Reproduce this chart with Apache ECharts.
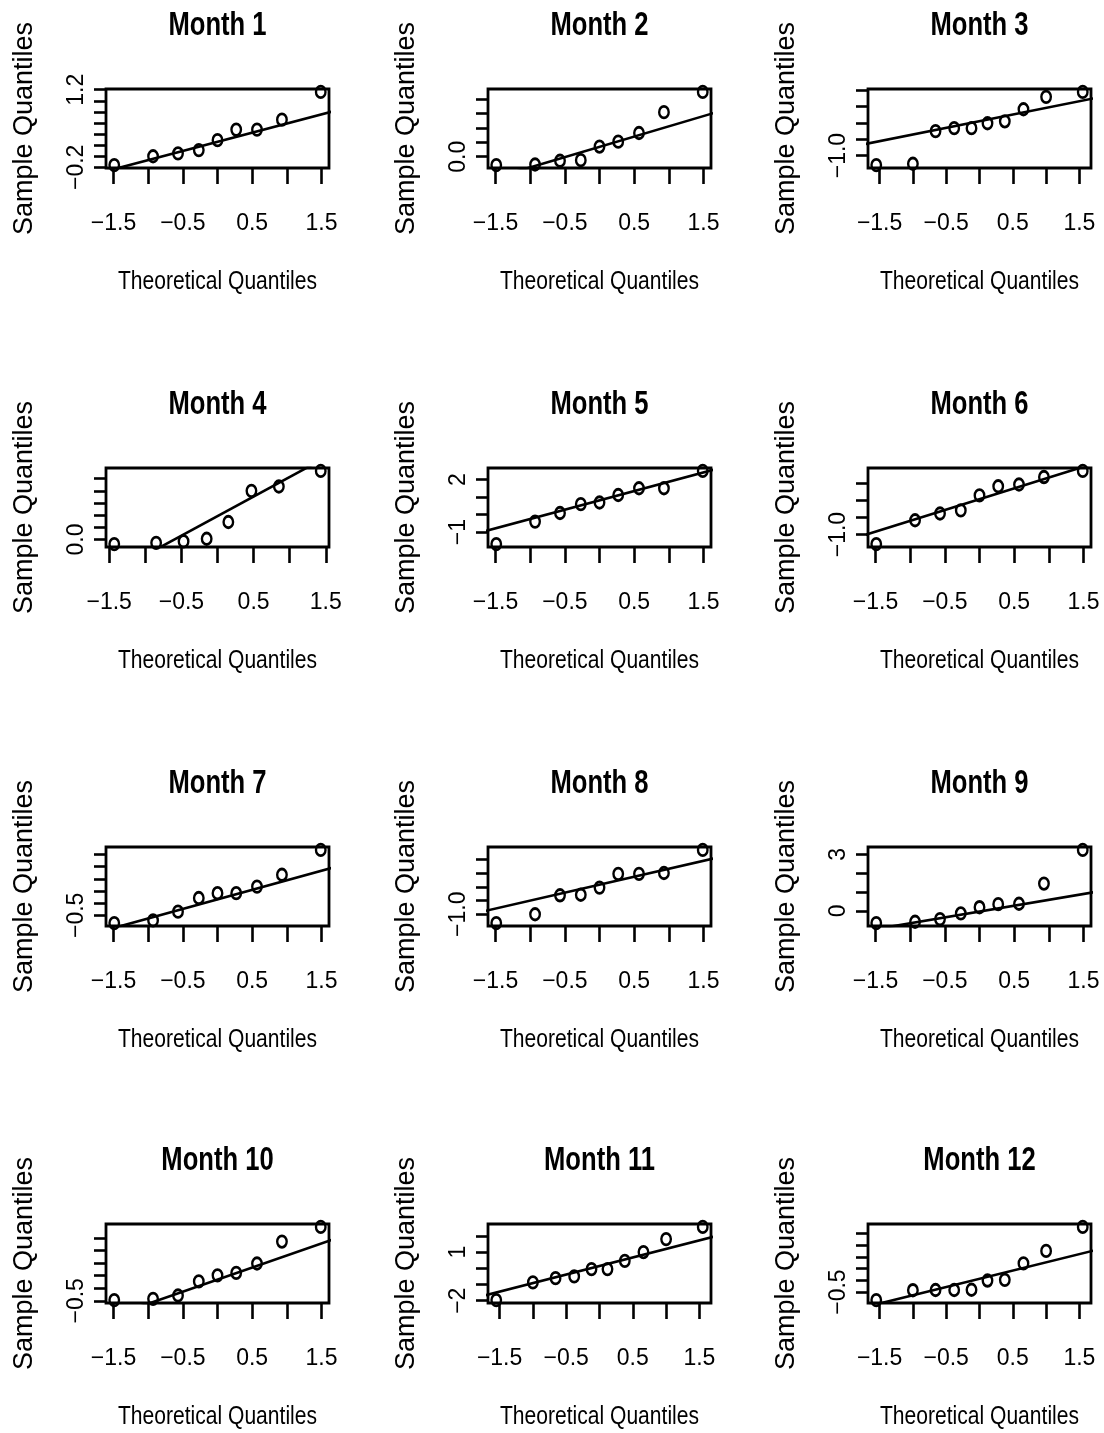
<!DOCTYPE html>
<html><head><meta charset="utf-8">
<script src="https://cdn.jsdelivr.net/npm/echarts@6/dist/echarts.min.js"></script>
<style>html,body{margin:0;padding:0;background:#fff}#c{width:1104px;height:1433px}</style>
</head><body><div id="c"></div>
<script>
// ---- data ----
const panelTitles = ['Month 1','Month 2','Month 3','Month 4','Month 5','Month 6','Month 7','Month 8','Month 9','Month 10','Month 11','Month 12'];
const xAxisTitle = 'Theoretical Quantiles';
const yAxisTitle = 'Sample Quantiles';

// theoretical quantiles (x) for samples of 8, 9, 10
const theo8  = [-1.43,-0.85,-0.47,-0.15,0.15,0.47,0.85,1.43];
const theo9  = [-1.49,-0.93,-0.57,-0.27,0,0.27,0.57,0.93,1.49];
const theo10 = [-1.55,-1.00,-0.66,-0.38,-0.12,0.12,0.38,0.66,1.00,1.55];

// sample quantiles (y) per month
const month1  = [-0.16,0.00,0.05,0.11,0.29,0.48,0.48,0.66,1.16];
const month2  = [-0.29,-0.27,-0.14,-0.12,0.35,0.52,0.82,1.54,2.24];
const month3  = [-1.29,-1.25,-0.25,-0.16,-0.16,-0.01,0.05,0.42,0.80,0.95];
const month4  = [-0.19,-0.14,-0.08,0.03,0.72,2.00,2.18,2.82];
const month5  = [-1.68,-0.40,0.09,0.60,0.69,1.12,1.50,1.50,2.49];
const month6  = [-1.28,-0.58,-0.38,-0.29,0.15,0.42,0.47,0.69,0.87];
const month7  = [-0.82,-0.71,-0.35,0.21,0.41,0.41,0.68,1.17,2.19];
const month8  = [-1.32,-1.00,-0.31,-0.29,-0.03,0.47,0.47,0.50,1.34];
const month9  = [-0.64,-0.57,-0.43,-0.13,0.20,0.36,0.38,1.45,3.23];
const month10 = [-0.47,-0.42,-0.29,0.27,0.51,0.61,0.98,1.85,2.43];
const month11 = [-1.96,-0.87,-0.61,-0.50,-0.05,-0.05,0.46,1.00,1.80,2.55];
const month12 = [-0.84,-0.42,-0.41,-0.41,-0.40,-0.01,0.02,0.72,1.25,2.27];

// reference line: y at x = -2 and x = 2
const refLineX     = [-2, 2];
const refLineLeft  = [-0.40,-1.08,-0.76,-2.26,-1.31,-1.23,-1.415,-1.08,-1.27,-1.57,-1.97,-1.335];
const refLineRight = [0.92,1.76,0.87,4.18,2.93,1.31,1.725,1.23,1.21,2.25,2.25,1.465];

// tick values / labels
const xTickValues = [-1.5,-1,-0.5,0,0.5,1,1.5];
const xTickLabels = [-1.5,-0.5,0.5,1.5];
const yTickValues = [
  [-0.2,0,0.2,0.4,0.6,0.8,1.0,1.2],
  [0,0.5,1,1.5,2],
  [-1,-0.5,0,0.5,1],
  [0,0.5,1,1.5,2,2.5],
  [-1,0,1,2],
  [-1,-0.5,0,0.5],
  [-0.5,0,0.5,1,1.5,2],
  [-1,-0.5,0,0.5,1],
  [0,1,2,3],
  [-0.5,0,0.5,1,1.5,2],
  [-2,-1,0,1,2],
  [-0.5,0,0.5,1,1.5,2]
];
const yTickLabels = [[-0.2,1.2],[0],[-1],[0],[-1,2],[-1],[-0.5],[-1],[0,3],[-0.5],[-2,1],[-0.5]];
const yDecimals = [1,1,1,1,0,1,1,1,0,1,0,1];

// ---- build ----
const theoX = [theo9,theo9,theo10,theo8,theo9,theo9,theo9,theo9,theo9,theo9,theo10,theo10];
const samples = [month1,month2,month3,month4,month5,month6,month7,month8,month9,month10,month11,month12];

const colLeft = [106, 488, 868];
const rowTop = [89, 468, 847, 1224];
const boxW = 223, boxH = 79;

const regular = "'Liberation Sans',Arial,Helvetica,sans-serif";

function fmt(v, d) {
  const s = Math.abs(v).toFixed(d);
  return (v < -1e-9 ? '\u2212' : '') + s;
}
function padRange(arr) {
  const lo = Math.min(...arr), hi = Math.max(...arr), d = (hi - lo) * 0.04;
  return [lo - d, hi + d];
}

const grid = [], xAxis = [], yAxis = [], series = [], graphic = [];
for (let i = 0; i < 12; i++) {
  const r = Math.floor(i / 3), c = i % 3;
  const L = colLeft[c], T = rowTop[r];
  grid.push({left: L, top: T, width: boxW, height: boxH, show: true,
    borderColor: '#000', borderWidth: 2.8, backgroundColor: 'transparent'});
  const xr = padRange(theoX[i]);
  const yr = padRange(samples[i]);
  const dec = yDecimals[i];
  xAxis.push({type: 'value', gridIndex: i, min: xr[0], max: xr[1],
    axisLine: {show: false, onZero: false},
    splitLine: {show: false},
    axisTick: {show: true, length: 16, lineStyle: {color: '#000', width: 2.6}, customValues: xTickValues},
    axisLabel: {customValues: xTickLabels, formatter: v => fmt(v, 1), fontSize: 23, color: '#000',
      fontFamily: regular, margin: 44}
  });
  yAxis.push({type: 'value', gridIndex: i, min: yr[0], max: yr[1],
    axisLine: {show: false, onZero: false},
    splitLine: {show: false},
    axisTick: {show: true, length: 12, lineStyle: {color: '#000', width: 2.6}, customValues: yTickValues[i]},
    axisLabel: {customValues: yTickLabels[i], formatter: v => fmt(v, dec), rotate: 90, fontSize: 23,
      color: '#000', fontFamily: regular, margin: 18},
    name: yAxisTitle, nameLocation: 'middle', nameGap: 68,
    nameTextStyle: {fontSize: 27, fontFamily: regular, color: '#000'}
  });
  series.push({type: 'scatter', xAxisIndex: i, yAxisIndex: i, symbol: 'circle', symbolSize: [9.5, 11.5],
    itemStyle: {color: 'rgba(0,0,0,0)', borderColor: '#000', borderWidth: 2.6, opacity: 1},
    data: theoX[i].map((x, k) => [x, samples[i][k]]), silent: true, z: 3});
  series.push({type: 'line', xAxisIndex: i, yAxisIndex: i, symbol: 'none', clip: true,
    lineStyle: {color: '#000', width: 2.6},
    data: [[refLineX[0], refLineLeft[i]], [refLineX[1], refLineRight[i]]], silent: true, z: 2});
  // panel title (condensed bold)
  graphic.push({type: 'text', x: L + boxW / 2, y: T - 63, scaleX: 0.8, scaleY: 1.03,
    style: {text: panelTitles[i], fill: '#000', fontSize: 32, fontWeight: 'bold', fontFamily: regular,
      textAlign: 'center', textVerticalAlign: 'middle', verticalAlign: 'middle'}});
  // x-axis title (condensed)
  graphic.push({type: 'text', x: L + boxW / 2, y: T + boxH + 114, scaleX: 0.81, scaleY: 1,
    style: {text: xAxisTitle, fill: '#000', fontSize: 26, fontFamily: regular,
      textAlign: 'center', textVerticalAlign: 'middle', verticalAlign: 'middle'}});
}

const chart = echarts.init(document.getElementById('c'), null, {renderer: 'canvas'});
chart.setOption({animation: false, backgroundColor: '#fff', grid, xAxis, yAxis, series, graphic});
</script>
</body></html>
